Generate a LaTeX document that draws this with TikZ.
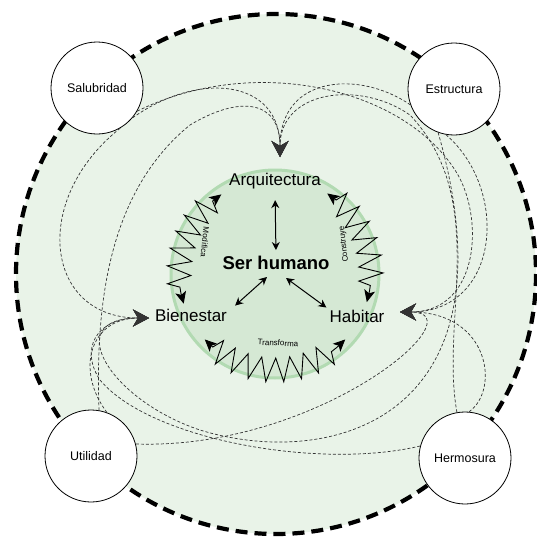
\documentclass[tikz,border=0pt]{standalone}
\usepackage{fontspec}
\setmainfont{Liberation Sans}
\usetikzlibrary{arrows.meta,decorations.pathmorphing,calc}
\definecolor{ringgreen}{RGB}{233,243,232}
\definecolor{coregreen}{RGB}{213,232,212}
\definecolor{rimgreen}{RGB}{178,218,178}
\newcommand{\ringrad}{260}
\newcommand{\corerad}{104}
\newcommand{\zigrad}{96}

\begin{document}
\begin{tikzpicture}[x=1pt, y=-1pt, >={Stealth[length=8pt,width=8pt]},
    pillar/.style={circle, draw=black, line width=0.8pt, fill=white, minimum size=92pt, inner sep=0pt, font=\fontsize{12.5}{15}\selectfont},
    idea/.style={font=\fontsize{17}{20}\selectfont, inner sep=1pt},
    link/.style={dash pattern=on 3pt off 2pt, line width=0.7pt, draw=black!80, >={Stealth[length=16pt,width=17pt,inset=5pt]}, ->},
    zig/.style={decorate, decoration={zigzag, segment length=16pt, amplitude=12pt, pre length=11pt, post length=11pt}, line width=0.9pt, >={Stealth[length=12pt,width=11pt,inset=3pt]}, <->},
    arcnote/.style={font=\fontsize{8}{9}\selectfont, inner sep=0pt}]
        \useasboundingbox (0,0) rectangle (537,538);
        \coordinate (ring) at (276,274);
        \coordinate (core) at (275,274);

        % color
        \fill[ringgreen] (ring) circle[radius=\ringrad];
        \draw[line width=4.2pt, dash pattern=on 12pt off 7pt] (ring) circle[radius=\ringrad];
        \draw[fill=coregreen, draw=rimgreen, line width=3pt] (core) circle[radius=\corerad];

        % zigzag arcs
        \draw[zig] ($(core)+(236:\zigrad)$) arc[start angle=236, end angle=162, radius=\zigrad];
        \draw[zig] ($(core)+(303:\zigrad)$) arc[start angle=303, end angle=377, radius=\zigrad];
        \draw[zig] ($(core)+(137:\zigrad)$) arc[start angle=137, end angle=43, radius=\zigrad];
        \node[arcnote, rotate=-96] (mod) at (205,242) {Modifica};
        \node[arcnote, rotate=97] (con) at (344,244) {Construye};
        \node[arcnote, rotate=-3] (tra) at (278,343) {Transforma};

        % inner labels
        \node[idea] (arq) at (275,181) {Arquitectura};
        \node[font=\bfseries\fontsize{18.5}{21}\selectfont, inner sep=1pt] (ser) at (276,263) {Ser humano};
        \node[idea] (bien) at (191,315) {Bienestar};
        \node[idea] (hab) at (357,316) {Habitar};

        \draw[<->, line width=1pt, shorten <=10pt, shorten >=5pt] (arq.south) -- (ser.north);
        \draw[<->, line width=1pt] ($(ser.south)+(-9,6)$) -- ($(bien.north east)+(7,-2)$);
        \draw[<->, line width=1pt] ($(ser.south)+(10,7)$) -- ($(hab.north west)+(-2,-1)$);

        % outer nodes
        \node[pillar] (sal) at (97,88) {Salubridad};
        \node[pillar] (est) at (454,89) {Estructura};
        \node[pillar] (uti) at (91,456) {Utilidad};
        \node[pillar] (her) at (465,458) {Hermosura};

        \coordinate (toarq) at (280,157);
        \coordinate (tobien) at (149,318);
        \coordinate (tohab) at (400,312);

        % dashed links
        \draw[link] (sal.-40) .. controls (200,70) and (280,80) .. (toarq);
        \draw[link] (sal.-60) .. controls (30,200) and (45,318) .. (tobien);
        \draw[link] (sal.-30) .. controls (250,55) and (400,85) .. (455,170) .. controls (485,216) and (480,312) .. (tohab);
        \draw[link] (est.200) .. controls (360,70) and (280,75) .. (toarq);
        \draw[link] (est.-110) .. controls (520,420) and (330,470) .. (200,430) .. controls (110,400) and (60,318) .. (tobien);
        \draw[link] (est.-100) .. controls (510,190) and (500,312) .. (tohab);
        \draw[link] (uti.80) .. controls (95,300) and (110,190) .. (190,125) .. controls (240,95) and (280,100) .. (toarq);
        \draw[link] (uti.70) .. controls (75,370) and (90,318) .. (tobien);
        \draw[link] (uti.15) .. controls (320,450) and (480,312) .. (tohab);
        \draw[link] (her.100) .. controls (440,320) and (490,200) .. (410,115) .. controls (360,80) and (280,90) .. (toarq);
        \draw[link] (her.165) .. controls (320,470) and (150,440) .. (100,380) .. controls (80,350) and (95,318) .. (tobien);
        \draw[link] (her.85) .. controls (500,390) and (490,312) .. (tohab);
    \end{tikzpicture}
\end{document}
